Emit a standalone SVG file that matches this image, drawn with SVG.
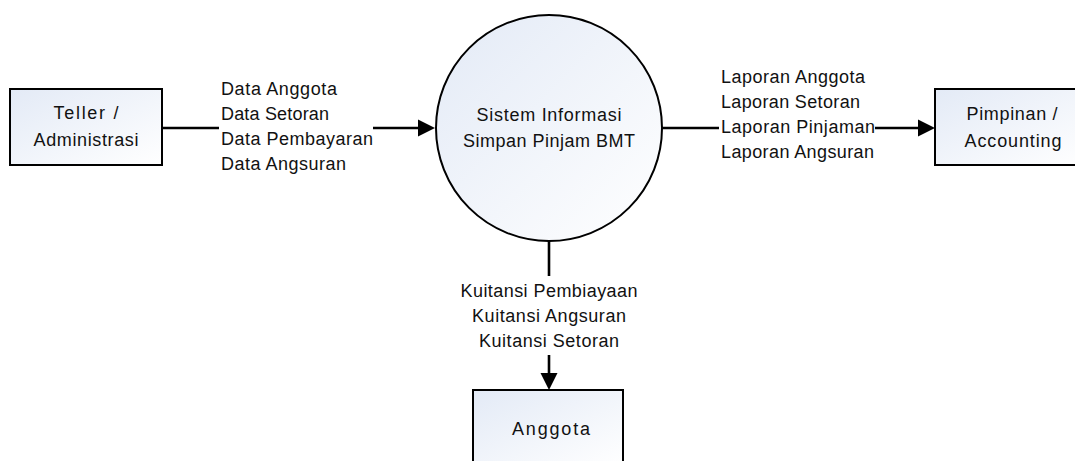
<svg xmlns="http://www.w3.org/2000/svg" width="1075" height="461" viewBox="0 0 1075 461">
<defs>
<linearGradient id="fill" x1="0" y1="0" x2="1" y2="1">
<stop offset="0" stop-color="#e3eaf6"/>
<stop offset="1" stop-color="#ffffff"/>
</linearGradient>
<marker id="arrow" markerUnits="userSpaceOnUse" markerWidth="18" markerHeight="18" refX="0" refY="8.5" orient="auto" viewBox="0 0 18 17">
<path d="M0,0 L17,8.5 L0,17 Z" fill="#000"/>
</marker>
<style>
.node{fill:url(#fill);stroke:#000;stroke-width:2}
.t{font-family:"Liberation Sans",Arial,sans-serif;font-size:18px;fill:#111}
.c{text-anchor:middle}
.ln{fill:none;stroke:#000;stroke-width:2.6}
</style>
</defs>
<rect width="1075" height="461" fill="#fff"/>
<g id="connectors">
<path class="ln" d="M162,128 H219"/>
<path class="ln" d="M373,128 H418" marker-end="url(#arrow)"/>
<path class="ln" d="M662,128 H719"/>
<path class="ln" d="M875,128 H918" marker-end="url(#arrow)"/>
<path class="ln" d="M549,240 V276"/>
<path class="ln" d="M549,355 V373" marker-end="url(#arrow)"/>
<g id="label-in">
<text class="t" x="221" y="95" textLength="116" lengthAdjust="spacing">Data Anggota</text>
<text class="t" x="221" y="120" textLength="108" lengthAdjust="spacing">Data Setoran</text>
<text class="t" x="221" y="145" textLength="152" lengthAdjust="spacing">Data Pembayaran</text>
<text class="t" x="221" y="170" textLength="125" lengthAdjust="spacing">Data Angsuran</text>
</g>
<g id="label-out">
<text class="t" x="721" y="83" textLength="144" lengthAdjust="spacing">Laporan Anggota</text>
<text class="t" x="721" y="108" textLength="139" lengthAdjust="spacing">Laporan Setoran</text>
<text class="t" x="721" y="133" textLength="154" lengthAdjust="spacing">Laporan Pinjaman</text>
<text class="t" x="721" y="158" textLength="153" lengthAdjust="spacing">Laporan Angsuran</text>
</g>
<g id="label-down">
<text class="t c" x="549" y="297" textLength="177" lengthAdjust="spacing">Kuitansi Pembiayaan</text>
<text class="t c" x="549" y="322" textLength="154" lengthAdjust="spacing">Kuitansi Angsuran</text>
<text class="t c" x="549" y="347" textLength="140" lengthAdjust="spacing">Kuitansi Setoran</text>
</g>
</g>
<g id="teller">
<rect class="node" x="10" y="89" width="152" height="76"/>
<text class="t c" x="86" y="119" textLength="65" lengthAdjust="spacing">Teller /</text>
<text class="t c" x="86" y="146" textLength="105" lengthAdjust="spacing">Administrasi</text>
</g>
<g id="sistem">
<circle class="node" cx="549" cy="128" r="113"/>
<text class="t c" x="549" y="121" textLength="145" lengthAdjust="spacing">Sistem Informasi</text>
<text class="t c" x="549" y="147" textLength="172" lengthAdjust="spacing">Simpan Pinjam BMT</text>
</g>
<g id="pimpinan">
<rect class="node" x="935" y="89" width="152" height="76"/>
<text class="t c" x="1012" y="120" textLength="91" lengthAdjust="spacing">Pimpinan /</text>
<text class="t c" x="1013" y="147" textLength="97" lengthAdjust="spacing">Accounting</text>
</g>
<g id="anggota">
<rect class="node" x="473" y="390" width="150" height="76"/>
<text class="t c" x="551" y="435" textLength="78" lengthAdjust="spacing">Anggota</text>
</g>
</svg>
